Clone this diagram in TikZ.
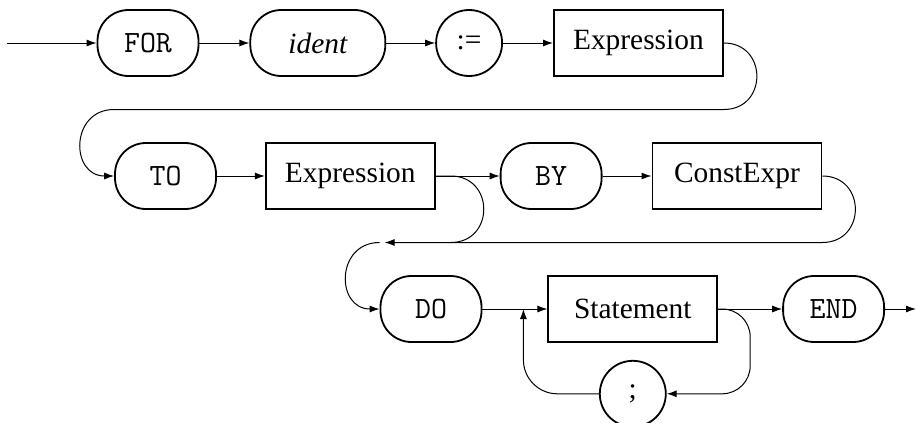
\documentclass[tikz,border=0pt]{standalone}
\usepackage{fontspec}
\setmainfont{Liberation Serif}
\usepackage{tikz}
\usetikzlibrary{arrows.meta,positioning,calc}
\newcommand{\rrfont}{\fontsize{14.7}{17}\selectfont}
\newcommand{\kwfont}{\fontsize{15.5}{17}\selectfont\ttfamily}
\tikzset{
  term/.style={rectangle, rounded corners=15.5pt, draw, line width=0.9pt,
    minimum width=50.5pt, minimum height=33pt, inner sep=0pt, font=\kwfont},
  idnt/.style={term, minimum width=67.5pt, font=\rrfont\itshape},
  sym/.style={circle, draw, line width=0.9pt, minimum size=33pt, inner sep=0pt,
    font=\rrfont},
  nont/.style={rectangle, draw, line width=0.9pt, minimum width=84.5pt,
    minimum height=33pt, inner sep=0pt, font=\rrfont},
  arr/.style={-{Latex[length=5pt,width=3.5pt]}, line width=0.5pt},
  ln/.style={line width=0.5pt},
  semic/.style={looseness=1.7},
}

\begin{document}
\begin{tikzpicture}[node distance=25pt]
  \useasboundingbox (0,0) rectangle (458pt,-211.5pt);
  % first row
  \node[term] (kfor) at (74pt,-21.5pt) {FOR};
  \node[idnt, right=of kfor] (ident) {ident};
  \node[sym, right=24.5pt of ident] (assign) {:=};
  \node[nont, right=of assign] (expA) {Expression};
  % second row
  \node[term] (kto) at (82.75pt,-88pt) {TO};
  \node[nont, right=24pt of kto] (expB) {Expression};
  \node[term, right=32pt of expB] (kby) {BY};
  \node[nont, right=24.5pt of kby] (cexp) {ConstExpr};
  % third row
  \node[term] (kdo) at (215.5pt,-154.5pt) {DO};
  \node[nont, right=32.5pt of kdo] (stmt) {Statement};
  \node[term, right=32pt of stmt] (kend) {END};
  \node[sym, below=8.5pt of stmt] (semi) {;};

  \coordinate (start) at (3.5pt,-21.5pt);
  \coordinate (stop) at (458pt,-154.5pt);
  \coordinate (ret1) at (0,-54.75pt);
  \coordinate (ret2) at (0,-121.25pt);
  \coordinate (jS) at ($(stmt.west)+(-12pt,0)$);

  \draw[arr] (start) -- (kfor);
  \draw[arr] (kfor) -- (ident);
  \draw[arr] (ident) -- (assign);
  \draw[arr] (assign) -- (expA);
  \draw[arr, semic] (expA.east) to[out=0,in=0] (expA.east |- ret1)
    -- (kto.west |- ret1) to[out=180,in=180] (kto.west);

  \draw[arr] (kto) -- (expB);
  \draw[arr] (expB) -- (kby);
  \draw[arr] (kby) -- (cexp);
  \draw[ln, semic] (expB.east) -- ++(7.5pt,0) to[out=0,in=0] ++(0,-33.25pt);
  \draw[arr, shorten >=2.5pt, semic] (cexp.east) to[out=0,in=0] (cexp.east |- ret2)
    -- (kdo.west |- ret2);
  \draw[arr, semic] (kdo.west |- ret2) to[out=180,in=180] (kdo.west);

  \draw[arr] (kdo) -- (stmt);
  \draw[arr] (stmt) -- (kend);
  \draw[arr] (kend) -- (stop);
  \draw[arr, rounded corners=14pt] (stmt.east) -- ++(16pt,0) |- (semi.east);
  \draw[arr, rounded corners=17pt] (semi.west) -| (jS);
\end{tikzpicture}
\end{document}
